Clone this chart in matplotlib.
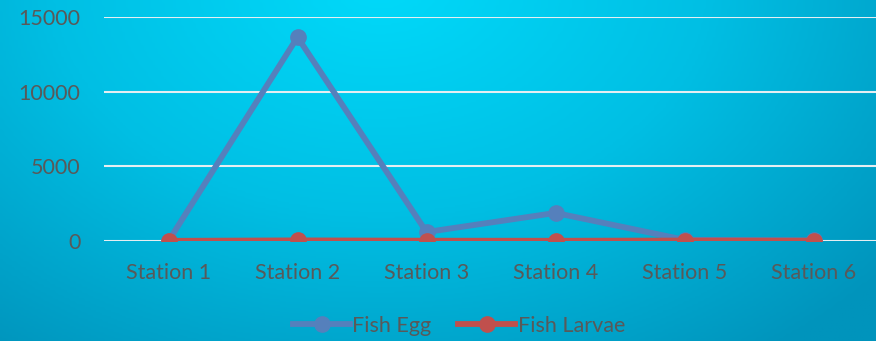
import numpy as np
import matplotlib
matplotlib.use('Agg')
import matplotlib.pyplot as plt
from matplotlib.colors import LinearSegmentedColormap

stations = ['Station 1', 'Station 2', 'Station 3', 'Station 4', 'Station 5', 'Station 6']
fish_egg = [0, 13650, 600, 1880, 80, 40]
fish_larvae = [10, 40, 20, 15, 30, 20]
y_ticks = [0, 5000, 10000, 15000]

plt.rcParams['font.family'] = ['Lato', 'DejaVu Sans']
text_color = '#595959'

W, H = 876, 341
fig = plt.figure(figsize=(W / 100, H / 100), dpi=100)

# background gradient, brightest near the top middle
bg = fig.add_axes([0, 0, 1, 1], zorder=-10)
xx, yy = np.meshgrid(np.linspace(0, W, 300), np.linspace(0, H, 120))
dist = np.sqrt(((xx - 380) / W) ** 2 + ((yy + 20) / H * 0.55) ** 2)
dist = np.clip(dist / 0.75, 0, 1)
cmap = LinearSegmentedColormap.from_list('bg', ['#00dafa', '#00bfe4', '#0094bc'])
bg.imshow(dist, cmap=cmap, aspect='auto', extent=[0, W, H, 0], vmin=0, vmax=1)
bg.axis('off')

ax = fig.add_axes([104 / W, 1 - 241 / H, (878 - 104) / W, (241 - 17) / H])
ax.patch.set_alpha(0)
x = np.arange(len(stations))

ax.plot(x, fish_egg, color='#5580bc', lw=4.2, marker='o', ms=11, label='Fish Egg', zorder=3)
ax.plot(x, fish_larvae, color='#c0504d', lw=4.2, marker='o', ms=11, label='Fish Larvae', zorder=4)

ax.set_xlim(-0.5, 5.5)
ax.set_ylim(0, 15000)
ax.set_yticks(y_ticks)
ax.set_xticks(x)
ax.set_xticklabels(stations)
ax.yaxis.grid(True, color='#e6eef2', lw=1.5, zorder=0)
ax.set_axisbelow(True)
for s in ax.spines.values():
    s.set_visible(False)
ax.tick_params(length=0, labelsize=15.5, colors=text_color)
ax.tick_params(axis='x', pad=16)
ax.tick_params(axis='y', pad=17)
for lbl in ax.get_xticklabels() + ax.get_yticklabels():
    lbl.set_color(text_color)

leg = fig.legend(loc='center', bbox_to_anchor=(459 / W, 1 - 326 / H), ncol=2, frameon=False,
                 fontsize=15.5, handlelength=2.65, handletextpad=0.1, columnspacing=1.25)
for t in leg.get_texts():
    t.set_color(text_color)

fig.savefig('out.png', dpi=100)
